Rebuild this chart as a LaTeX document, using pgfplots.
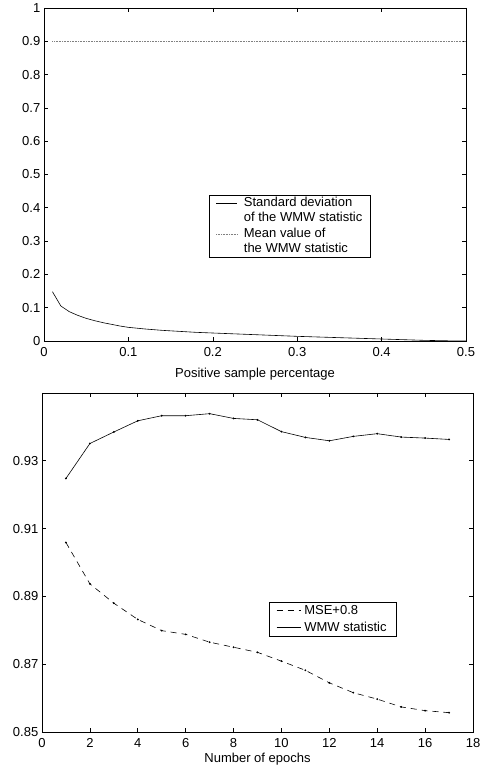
\documentclass[border=0pt]{standalone}
\usepackage{pgfplots}
\pgfplotsset{compat=1.18}
\usepackage{fontspec}
\setmainfont{Liberation Sans}
\begin{document}
\begin{tikzpicture}[font=\fontsize{13}{15}\selectfont]
\useasboundingbox (0pt,0pt) rectangle (482pt,766pt);
\pgfplotsset{
  myaxis/.style={
    scale only axis,
    anchor=south west,
    axis line style={line width=0.6pt},
    every tick/.style={line width=0.6pt, black},
    major tick length=4pt,
    tick align=inside,
    /pgf/number format/assume math mode=true,
    /pgf/number format/fixed,
    legend cell align=left,
    xticklabel style={anchor=base, yshift=-15.5pt},
    yticklabel style={inner sep=3.5pt},
  }
}
% Top axis
\begin{axis}[myaxis,
  at={(44pt,425pt)}, width=422pt, height=333pt,
  xmin=0, xmax=0.5, ymin=0, ymax=1,
  xtick={0,0.1,0.2,0.3,0.4,0.5},
  xticklabels={0,0.1,0.2,0.3,0.4,0.5},
  ytick={0,0.1,...,1.0},
  yticklabels={0,0.1,0.2,0.3,0.4,0.5,0.6,0.7,0.8,0.9,1},
  xlabel={Positive sample percentage},
  xlabel style={at={(axis description cs:0.5,0)}, anchor=base, yshift=-36.5pt},
  legend style={at={(0.391,0.438)}, anchor=north west, draw=black, line width=0.6pt,
    inner xsep=6.5pt, inner ysep=0pt, row sep=0pt, column sep=5pt,
    nodes={inner sep=1.5pt, text height=9.5pt, text depth=3pt, line width=0.6pt}},
  legend image code/.code={\draw[#1] (0pt,0pt) -- (21pt,0pt);},
]
\addplot[black, line width=0.6pt] coordinates {
(0.01,0.148) (0.02,0.105) (0.03,0.088) (0.04,0.077) (0.05,0.068) (0.06,0.061)
(0.07,0.055) (0.08,0.050) (0.09,0.045) (0.10,0.041) (0.12,0.036) (0.14,0.032)
(0.16,0.029) (0.18,0.026) (0.20,0.024) (0.25,0.019) (0.30,0.014) (0.35,0.010)
(0.40,0.006) (0.45,0.002) (0.48,0.0005) (0.50,0.0)
};
\addlegendentry{Standard deviation}
\addlegendimage{empty legend}
\addlegendentry{of the WMW statistic}
\addplot[gray, line width=0.6pt, densely dotted] coordinates {(0.01,0.9) (0.5,0.9)};
\addlegendentry{Mean value of}
\addlegendimage{empty legend}
\addlegendentry{the WMW statistic}
\end{axis}
% Bottom axis
\begin{axis}[myaxis,
  at={(42pt,34pt)}, width=431pt, height=339pt,
  xmin=0, xmax=18, ymin=0.85, ymax=0.95,
  xtick={0,2,...,18},
  ytick={0.85,0.87,0.89,0.91,0.93},
  yticklabels={0.85,0.87,0.89,0.91,0.93},
  xlabel={Number of epochs},
  xlabel style={at={(axis description cs:0.5,0)}, anchor=base, yshift=-30pt},
  legend style={at={(0.527,0.3835)}, anchor=north west, draw=black, line width=0.6pt,
    inner xsep=7pt, inner ysep=0pt, row sep=0pt, column sep=1pt,
    nodes={inner sep=2.25pt, text height=9.5pt, text depth=3pt, line width=0.6pt}},
  legend image code/.code={\draw[#1] (0pt,0pt) -- (24pt,0pt);},
]
\addplot[black, line width=0.6pt, dash pattern=on 6pt off 5pt, mark=*, mark size=0.6pt, mark options={solid}] coordinates {
(1,0.9059) (2,0.8937) (3,0.8880) (4,0.8832) (5,0.8799) (6,0.8788) (7,0.8765)
(8,0.8750) (9,0.8735) (10,0.8709) (11,0.8682) (12,0.8645) (13,0.8616)
(14,0.8597) (15,0.8574) (16,0.8563) (17,0.8557)
};
\addlegendentry{MSE+0.8}
\addplot[black, line width=0.6pt, mark=*, mark size=0.6pt] coordinates {
(1,0.9248) (2,0.9351) (3,0.9385) (4,0.9418) (5,0.9433) (6,0.9433) (7,0.9439)
(8,0.9425) (9,0.9421) (10,0.9386) (11,0.9369) (12,0.9359) (13,0.9372)
(14,0.9380) (15,0.9370) (16,0.9367) (17,0.9363)
};
\addlegendentry{WMW statistic}
\end{axis}
\end{tikzpicture}
\end{document}
